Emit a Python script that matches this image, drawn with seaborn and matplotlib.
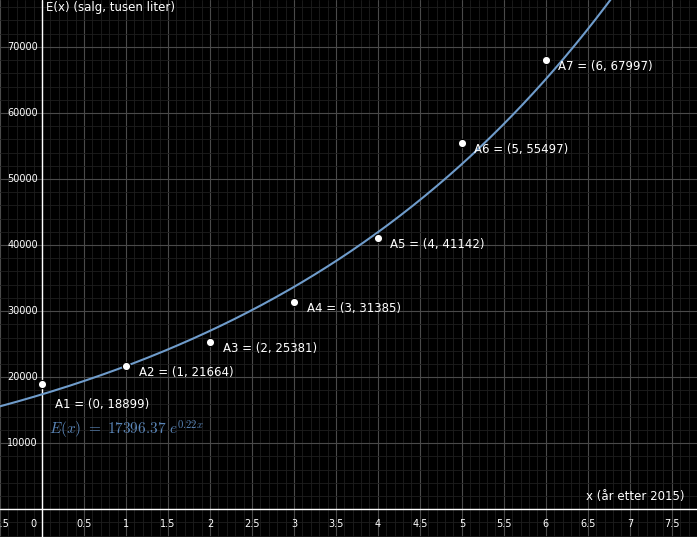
import numpy as np
import matplotlib
matplotlib.use("Agg")
import matplotlib.pyplot as plt
import seaborn as sns
from matplotlib.ticker import MultipleLocator

sns.set_style("dark")
plt.rcParams['font.family'] = ['DejaVu Sans']
plt.rcParams['mathtext.fontset'] = 'cm'

years = [0, 1, 2, 3, 4, 5, 6]
sales = [18899, 21664, 25381, 31385, 41142, 55497, 67997]
labels = ["A1 = (0, 18899)", "A2 = (1, 21664)", "A3 = (2, 25381)", "A4 = (3, 31385)",
          "A5 = (4, 41142)", "A6 = (5, 55497)", "A7 = (6, 67997)"]
a_coef, b_coef = 17396.37, 0.22

fig = plt.figure(figsize=(6.97, 5.37), dpi=100, facecolor="black")
ax = fig.add_axes([0, 0, 1, 1], facecolor="black")
xmin, xmax, ymin, ymax = -0.5, 7.8, -4200, 77100
ax.set_xlim(xmin, xmax); ax.set_ylim(ymin, ymax)

ax.xaxis.set_major_locator(MultipleLocator(0.5))
ax.xaxis.set_minor_locator(MultipleLocator(0.1))
ax.yaxis.set_major_locator(MultipleLocator(10000))
ax.yaxis.set_minor_locator(MultipleLocator(2000))
ax.grid(which="major", color="#4a4a4a", lw=0.8)
ax.grid(which="minor", color="#1e1e1e", lw=0.6)
ax.tick_params(which="both", length=0, labelbottom=False, labelleft=False)
for s in ax.spines.values():
    s.set_visible(False)
ax.axhline(0, color="white", lw=1)
ax.axvline(0, color="white", lw=1)

for v in np.arange(-0.5, 7.6, 0.5):
    if abs(v) < 1e-9:
        ax.text(-0.06, -1500, "0", color="white", fontsize=7, ha="right", va="top")
        continue
    ax.text(v, -1500, f"{v:g}", color="white", fontsize=7, ha="center", va="top")
for v in range(10000, 80000, 10000):
    ax.text(-0.05, v, str(v), color="white", fontsize=7, ha="right", va="center")

xs = np.linspace(xmin, xmax, 400)
sns.lineplot(x=xs, y=a_coef * np.exp(b_coef * xs), ax=ax, color="#6f9ccb", lw=1.5)
sns.scatterplot(x=years, y=sales, ax=ax, color="white", s=35, edgecolor="black", linewidth=0.8, zorder=5)
for x, y, l in zip(years, sales, labels):
    dy = -3000 if x == 0 else -1000
    ax.text(x + 0.15, y + dy, l, color="white", fontsize=8.5, va="center")

ax.text(0.08, 12000, r"$E(x)\ =\ 17396.37\ e^{0.22x}$", color="#5b86b8", fontsize=11, va="center")
ax.text(0.05, 76000, "E(x) (salg, tusen liter)", color="white", fontsize=8.5, va="center")
ax.text(7.65, 900, "x (år etter 2015)", color="white", fontsize=8.5, ha="right", va="bottom")

fig.savefig("out.png", dpi=100, facecolor="black")
